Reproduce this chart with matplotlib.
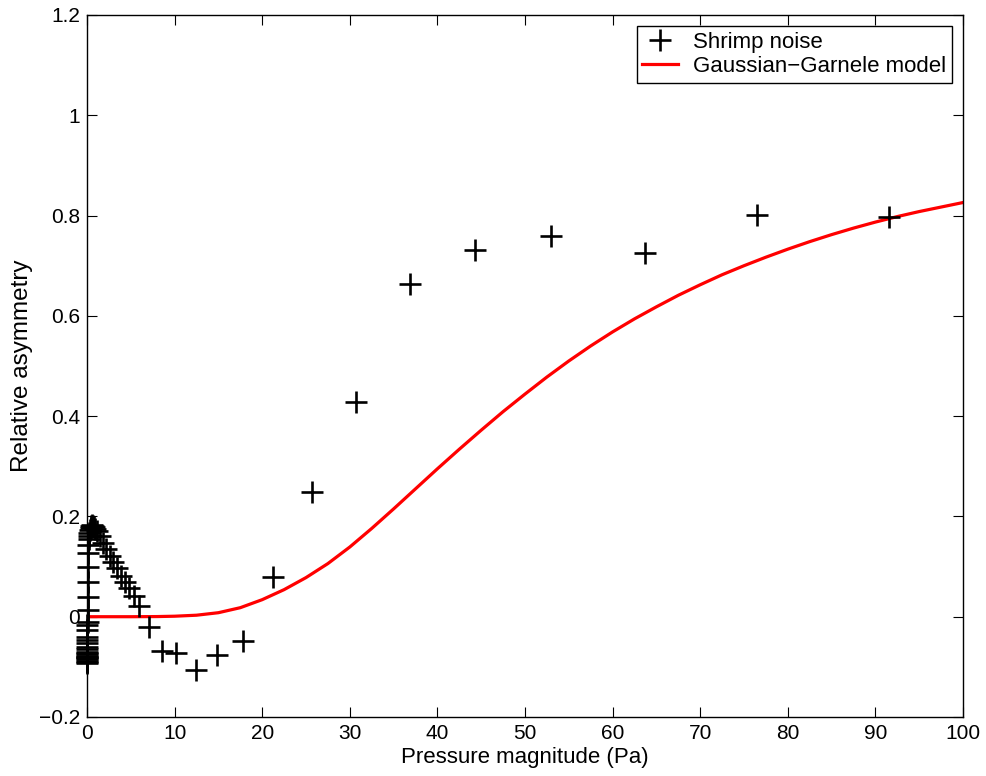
import numpy as np
import matplotlib
matplotlib.use('Agg')
import matplotlib.pyplot as plt

plt.rcParams['font.family'] = ['Liberation Sans', 'DejaVu Sans']

x_shrimp = [0.005, 0.006, 0.007, 0.008, 0.009, 0.010, 0.012, 0.014, 0.016, 0.018,
            0.019, 0.020, 0.024, 0.028, 0.033, 0.038, 0.045, 0.052, 0.060, 0.070,
            0.085, 0.10, 0.12, 0.14, 0.17, 0.20, 0.24, 0.28, 0.33,
            0.40, 0.50, 0.60, 0.70, 0.80, 0.95,
            1.14, 1.48, 1.83, 2.17, 2.63, 2.97, 3.42, 3.88, 4.34, 4.79, 5.37, 5.94,
            7.1, 8.6, 10.2, 12.4, 14.8, 17.8, 21.2, 25.7, 30.7, 36.9, 44.3, 53.0,
            63.7, 76.5, 91.6]
y_shrimp = [-0.085, -0.080, -0.090, -0.078, -0.082, -0.075, -0.088, -0.072, -0.080, -0.070,
            -0.092, -0.065, -0.060, -0.052, -0.046, -0.040, -0.026, -0.016, -0.010, 0.014,
            0.040, 0.070, 0.100, 0.128, 0.144, 0.154, 0.160, 0.166, 0.172,
            0.176, 0.180, 0.182, 0.180, 0.178, 0.175,
            0.170, 0.160, 0.148, 0.136, 0.122, 0.110, 0.098, 0.082, 0.070, 0.058, 0.042, 0.022,
            -0.020, -0.068, -0.072, -0.106, -0.076, -0.048, 0.080, 0.249, 0.429, 0.664, 0.732, 0.760,
            0.726, 0.802, 0.798]

x_model = [0, 5, 8, 10, 12.5, 15, 17.5, 20, 22.5, 25, 27.5, 30, 32.5, 35, 37.5, 40,
           42.5, 45, 47.5, 50, 52.5, 55, 57.5, 60, 62.5, 65, 67.5, 70, 72.5, 75,
           77.5, 80, 82.5, 85, 87.5, 90, 92.5, 95, 97.5, 100]
y_model = [0.0, 0.0, 0.0003, 0.001, 0.003, 0.008, 0.018, 0.034, 0.054, 0.078, 0.106, 0.139,
           0.176, 0.215, 0.255, 0.295, 0.334, 0.372, 0.409, 0.444, 0.478, 0.510, 0.540, 0.568,
           0.594, 0.618, 0.641, 0.662, 0.682, 0.700, 0.717, 0.733, 0.748, 0.762, 0.775,
           0.787, 0.798, 0.808, 0.817, 0.826]

y_ticks = [-0.2, 0, 0.2, 0.4, 0.6, 0.8, 1.0, 1.2]
y_tick_labels = ['\u22120.2', '0', '0.2', '0.4', '0.6', '0.8', '1', '1.2']
x_ticks = [0, 10, 20, 30, 40, 50, 60, 70, 80, 90, 100]

fig = plt.figure(figsize=(9.87, 7.76), dpi=100)
ax = fig.add_axes([87 / 987, 1 - 717 / 776, 876 / 987, 702 / 776])

ax.plot(x_model, y_model, color='red', linewidth=2.3, label='Gaussian\u2212Garnele model',
        solid_joinstyle='round', zorder=2)
ax.plot(x_shrimp, y_shrimp, linestyle='none', marker='+', color='black', markersize=16,
        markeredgewidth=1.9, label='Shrimp noise', clip_on=False, zorder=3)

ax.set_xlim(0, 100)
ax.set_ylim(-0.2, 1.2)
ax.set_xticks(x_ticks)
ax.set_yticks(y_ticks)
ax.set_yticklabels(y_tick_labels)
ax.tick_params(direction='in', length=7, width=0.8, top=True, right=True, labelsize=15, pad=5)
for s in ax.spines.values():
    s.set_linewidth(1.0)

ax.set_xlabel('Pressure magnitude (Pa)', fontsize=16, labelpad=3)
ax.set_ylabel('Relative asymmetry', fontsize=17.5, labelpad=4)

handles, labels = ax.get_legend_handles_labels()
leg = ax.legend(handles[::-1], labels[::-1], loc='upper right', fontsize=16, fancybox=False,
                edgecolor='black', framealpha=1, borderaxespad=0.5, handlelength=1.6,
                handletextpad=0.7, borderpad=0.25, labelspacing=0.15)
leg.get_frame().set_linewidth(1.0)

plt.savefig('out.png', dpi=100)
